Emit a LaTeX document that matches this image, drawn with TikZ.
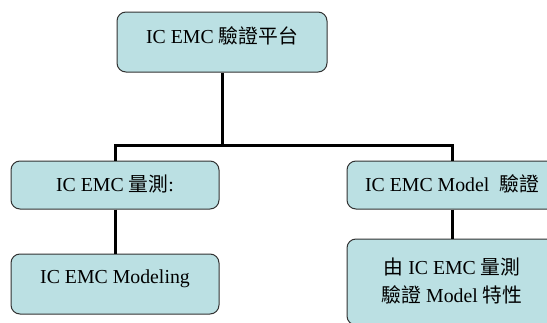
\documentclass[tikz,border=0pt]{standalone}
\usepackage{fontspec}
\setmainfont{Liberation Serif}
\newfontfamily\cjk{Noto Sans CJK TC}
\definecolor{boxfill}{RGB}{187,224,227}
\definecolor{boxline}{RGB}{50,50,50}
\begin{document}
\begin{tikzpicture}[x=1pt,y=-1pt,
  box/.style={draw=boxline,fill=boxfill,line width=1pt,rounded corners=9pt,inner sep=0pt},
  lbl/.style={font=\fontsize{19.8}{28}\selectfont,align=center,inner sep=0pt},
  conn/.style={line width=3pt,black}]
\clip (0,0) rectangle (547,322);
\node[box,minimum width=210pt,minimum height=60pt] (top) at (222,42) {};
\node[box,minimum width=208pt,minimum height=48pt] (lm) at (115,185) {};
\node[box,minimum width=210pt,minimum height=48pt] (rm) at (452,185) {};
\node[box,minimum width=208pt,minimum height=60pt] (lb) at (115,284) {};
\node[box,minimum width=210pt,minimum height=86pt] (rb) at (452,282) {};
\coordinate (j) at (222,145);
\draw[conn] (top.south) -- (j);
\draw[conn] (lm.north) |- (j) -| (rm.north);
\draw[conn] (lm.south) -- (lb.north);
\draw[conn] (rm.south) -- (rb.north);
\node[lbl] (ttop) at (222,36) {IC EMC {\cjk 驗證平台}};
\node[lbl] (tlm) at (115,184) {IC EMC {\cjk 量測}:};
\node[lbl] (trm) at (452,184) {IC EMC Model\ \ {\cjk 驗證}};
\node[lbl] (tlb) at (115,279) {IC EMC Modeling};
\node[lbl] (trb) at (452,281) {{\cjk 由} IC EMC {\cjk 量測}\\{\cjk 驗證} Model {\cjk 特性}};
\end{tikzpicture}
\end{document}
